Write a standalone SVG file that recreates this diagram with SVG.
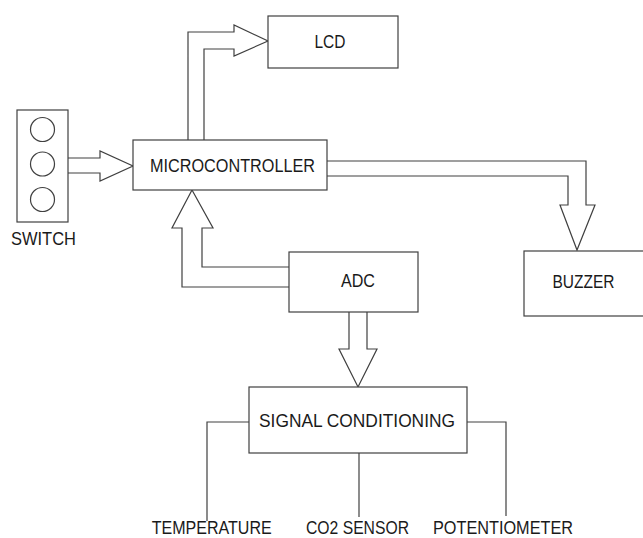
<svg xmlns="http://www.w3.org/2000/svg" width="643" height="538" viewBox="0 0 643 538">
<style>
.box{fill:#fff;stroke:#404040;stroke-width:1.2}
.arr{fill:none;stroke:#404040;stroke-width:1.2;stroke-linejoin:miter}
.ln{fill:none;stroke:#404040;stroke-width:1.2}
text{font-family:"Liberation Sans",Arial,sans-serif;font-size:18px;fill:#1a1a1a;text-anchor:middle}
</style>
<rect width="643" height="538" fill="#fff"/>
<g id="connectors">
<path class="arr" d="M188,140 V32 H234 V25 L268,41 L234,56 V49 H204 V140"/>
<path class="arr" d="M68,158 H100 V151 L133,166 L100,181 V173 H68"/>
<path class="arr" d="M289,287 H182 V228 H172 L192,190 L213,228 H202 V267 H289"/>
<path class="arr" d="M327,161 H586 V205 H595 L577,250 L560,205 H568 V176 H327"/>
<path class="arr" d="M349,312 V349 H339 L358,387 L377,349 H367 V312"/>
<path class="ln" d="M249,422 H207 V521"/>
<path class="ln" d="M359,453 V517"/>
<path class="ln" d="M467,422 H506 V516"/>
</g>
<g id="lcd">
<rect class="box" x="268" y="16" width="130" height="52"/>
<text x="330" y="48" textLength="31" lengthAdjust="spacingAndGlyphs">LCD</text>
</g>
<g id="microcontroller">
<rect class="box" x="133" y="140" width="194" height="50"/>
<text x="232.5" y="172" textLength="165" lengthAdjust="spacingAndGlyphs">MICROCONTROLLER</text>
</g>
<g id="switch">
<rect class="box" x="17" y="110" width="51" height="112"/>
<circle class="box" cx="42.5" cy="129.5" r="12"/>
<circle class="box" cx="42.5" cy="164" r="12"/>
<circle class="box" cx="42.5" cy="199.5" r="12"/>
<text x="43.5" y="245" textLength="65" lengthAdjust="spacingAndGlyphs">SWITCH</text>
</g>
<g id="adc">
<rect class="box" x="289" y="252" width="129" height="60"/>
<text x="358" y="287" textLength="34" lengthAdjust="spacingAndGlyphs">ADC</text>
</g>
<g id="buzzer">
<rect class="box" x="524" y="251" width="130" height="65"/>
<text x="583.5" y="288" textLength="62" lengthAdjust="spacingAndGlyphs">BUZZER</text>
</g>
<g id="signal-conditioning">
<rect class="box" x="249" y="387" width="218" height="66"/>
<text x="357" y="427" textLength="196" lengthAdjust="spacingAndGlyphs">SIGNAL CONDITIONING</text>
</g>
<g id="temperature">
<text x="211.7" y="534" textLength="120" lengthAdjust="spacingAndGlyphs">TEMPERATURE</text>
</g>
<g id="co2-sensor">
<text x="357.5" y="534" textLength="103" lengthAdjust="spacingAndGlyphs">CO2 SENSOR</text>
</g>
<g id="potentiometer">
<text x="503" y="534" textLength="140" lengthAdjust="spacingAndGlyphs">POTENTIOMETER</text>
</g>
</svg>
